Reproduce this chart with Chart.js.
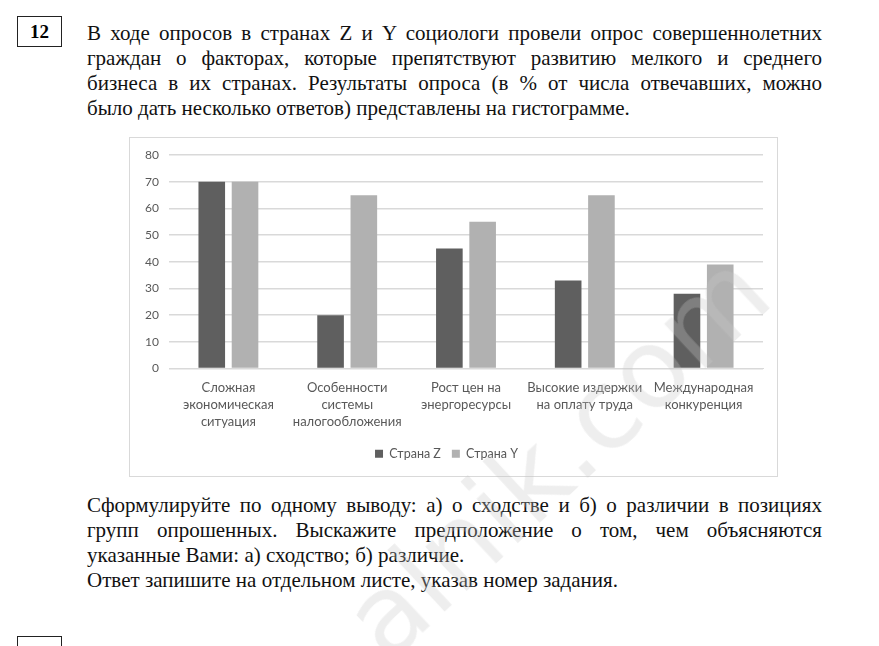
<!DOCTYPE html>
<html lang="ru">
<head>
<meta charset="utf-8">
<script src="https://cdn.jsdelivr.net/npm/chart.js@4.4.1/dist/chart.umd.min.js"></script>
<style>
  body { margin: 0; background: #fff; width: 879px; height: 646px; overflow: hidden; position: relative; }
  .txt { position: absolute; left: 87px; width: 735px; font-family: "Liberation Serif", "Times New Roman", serif; font-size: 21px; color: #111; }
  .ln { height: 25px; line-height: 25px; white-space: nowrap; }
  .j { text-align: justify; text-align-last: justify; white-space: normal; }
  .num { position: absolute; left: 17px; top: 16px; width: 43px; height: 29px; border: 1px solid #222; font-family: "Liberation Serif", serif; font-weight: bold; font-size: 19px; text-align: center; line-height: 29px; }
  .num2 { position: absolute; left: 17px; top: 636px; width: 43px; height: 29px; border: 1px solid #222; }
  #box { position: absolute; left: 129px; top: 137px; width: 647px; height: 338px; border: 1px solid #d9d9d9; }
  .wm { position: absolute; left: 318px; top: 590px; font-family: "DejaVu Sans", sans-serif; font-size: 110px; color: rgba(200,200,200,0.3); transform: rotate(-43deg); transform-origin: 0 0; pointer-events: none; white-space: nowrap; }
</style>
</head>
<body>
<div class="num">12</div>
<div class="txt" style="top:21px">
  <div class="ln j">В ходе опросов в странах Z и Y социологи провели опрос совершеннолетних</div>
  <div class="ln j">граждан о факторах, которые препятствуют развитию мелкого и среднего</div>
  <div class="ln j">бизнеса в их странах. Результаты опроса (в % от числа отвечавших, можно</div>
  <div class="ln">было дать несколько ответов) представлены на гистограмме.</div>
</div>
<div id="box"><canvas id="chart"></canvas></div>
<div class="txt" style="top:493px">
  <div class="ln j">Сформулируйте по одному выводу: а) о сходстве и б) о различии в позициях</div>
  <div class="ln j">групп опрошенных. Выскажите предположение о том, чем объясняются</div>
  <div class="ln">указанные Вами: а) сходство; б) различие.</div>
  <div class="ln">Ответ запишите на отдельном листе, указав номер задания.</div>
</div>
<div class="num2"></div>
<div class="wm">alnik.com</div>
<script>
const categories = [
  ['Сложная', 'экономическая', 'ситуация'],
  ['Особенности', 'системы', 'налогообложения'],
  ['Рост цен на', 'энергоресурсы'],
  ['Высокие издержки', 'на оплату труда'],
  ['Международная', 'конкуренция']
];
const countryZ = [70, 20, 45, 33, 28];
const countryY = [70, 65, 55, 65, 39];
const yTicks = [0, 10, 20, 30, 40, 50, 60, 70, 80];

const family = 'Lato, "Open Sans", sans-serif';

new Chart(document.getElementById('chart'), {
  type: 'bar',
  data: {
    labels: categories,
    datasets: [
      { label: 'Страна Z', data: countryZ, backgroundColor: '#5f5f5f' },
      { label: 'Страна Y', data: countryY, backgroundColor: '#b1b1b1' }
    ]
  },
  options: {
    responsive: true,
    maintainAspectRatio: false,
    animation: false,
    categoryPercentage: 0.56,
    barPercentage: 0.8,
    layout: { padding: { left: 0, right: 14, top: 16, bottom: 6 } },
    plugins: {
      tooltip: { enabled: false },
      legend: {
        position: 'bottom',
        labels: { color: '#595959', font: { family, size: 12.5 }, boxWidth: 8, boxHeight: 8, padding: 11 }
      }
    },
    scales: {
      x: {
        grid: { display: false },
        border: { color: '#d9d9d9' },
        ticks: { color: '#595959', font: { family, size: 13, lineHeight: '17px' }, maxRotation: 0, autoSkip: false, padding: 3 },
        afterFit: s => { s.height = 68; }
      },
      y: {
        min: 0, max: 80,
        afterBuildTicks: s => { s.ticks = yTicks.map(v => ({ value: v })); },
        grid: { color: '#d9d9d9', lineWidth: 1.5, drawTicks: false },
        border: { display: false },
        ticks: { color: '#595959', font: { family, size: 12 }, padding: 10 },
        afterFit: s => { s.width = 39; }
      }
    }
  }
});
</script>
</body>
</html>
